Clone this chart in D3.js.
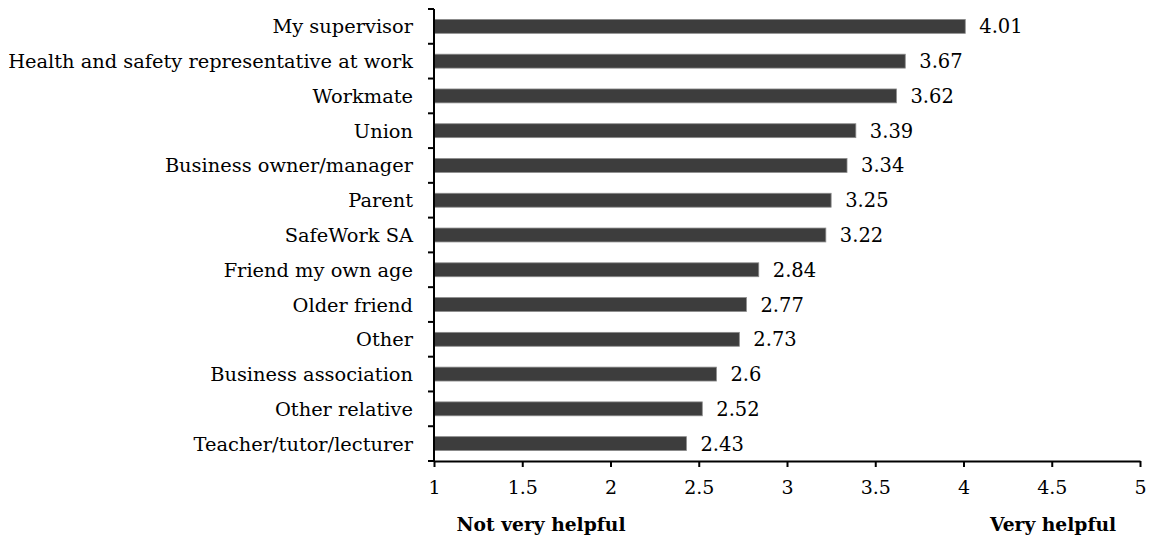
<!DOCTYPE html>
<html>
<head>
<meta charset="utf-8">
<script src="https://cdn.jsdelivr.net/npm/d3@7"></script>
<style>
  body { margin: 0; background: #fff; }
  text { font-family: "DejaVu Serif", serif; fill: #000; }
</style>
</head>
<body>
<div id="chart"></div>
<script>
// categories top to bottom and mean helpfulness score
var sources = ["My supervisor", "Health and safety representative at work", "Workmate", "Union",
  "Business owner/manager", "Parent", "SafeWork SA", "Friend my own age", "Older friend",
  "Other", "Business association", "Other relative", "Teacher/tutor/lecturer"];
var scores = [4.01, 3.67, 3.62, 3.39, 3.34, 3.25, 3.22, 2.84, 2.77, 2.73, 2.6, 2.52, 2.43];
var ticks = [1, 1.5, 2, 2.5, 3, 3.5, 4, 4.5, 5];
var lowLabel = "Not very helpful", highLabel = "Very helpful";

var width = 1154, height = 538;
var svg = d3.select("#chart").append("svg")
  .attr("width", width).attr("height", height);

var x = d3.scaleLinear().domain([1, 5]).range([434, 1140]);
var y = d3.scaleBand().domain(sources).range([9, 461]).paddingInner(0.6).paddingOuter(0.3);

// bars
svg.append("g").selectAll("rect")
  .data(sources).enter().append("rect")
  .attr("x", x(1))
  .attr("y", d => y(d))
  .attr("width", (d, i) => x(scores[i]) - x(1))
  .attr("height", y.bandwidth())
  .style("fill", "#3d3d3d")
  .style("stroke", "#8a8a8a")
  .style("stroke-width", 0.8);

// value labels
svg.append("g").selectAll("text")
  .data(sources).enter().append("text")
  .attr("x", (d, i) => x(scores[i]) + 14)
  .attr("y", d => y(d) + y.bandwidth() / 2)
  .attr("dy", "0.36em")
  .style("font-size", "19.5px")
  .text((d, i) => scores[i]);

// x axis
var xAxis = svg.append("g").attr("transform", "translate(0,461)")
  .call(d3.axisBottom(x).tickValues(ticks).tickSize(6).tickSizeOuter(0).tickPadding(14).tickFormat(d3.format("")));
xAxis.select(".domain").attr("stroke", "#000").attr("stroke-width", 2);
xAxis.selectAll(".tick line").attr("stroke", "#000").attr("stroke-width", 2);
xAxis.selectAll("text").style("font-size", "19px").attr("font-family", null);

// y axis with ticks between bands
var yAxis = svg.append("g").attr("transform", "translate(434,0)");
yAxis.append("line").attr("x1", 0).attr("x2", 0).attr("y1", 9).attr("y2", 461)
  .attr("stroke", "#000").attr("stroke-width", 2);
yAxis.selectAll("line.tk").data(d3.range(sources.length + 1)).enter().append("line")
  .attr("class", "tk")
  .attr("x1", -6).attr("x2", 0)
  .attr("y1", i => 9 + i * (452 / sources.length))
  .attr("y2", i => 9 + i * (452 / sources.length))
  .attr("stroke", "#000").attr("stroke-width", 2);
yAxis.selectAll("text").data(sources).enter().append("text")
  .attr("x", -21)
  .attr("y", d => y(d) + y.bandwidth() / 2)
  .attr("dy", "0.36em")
  .attr("text-anchor", "end")
  .style("font-size", "19.4px")
  .text(d => d);

// end labels
svg.append("text").attr("x", 541).attr("y", 531).attr("text-anchor", "middle")
  .style("font-size", "18.7px").style("font-weight", "bold").text(lowLabel);
svg.append("text").attr("x", 1053).attr("y", 531).attr("text-anchor", "middle")
  .style("font-size", "18.7px").style("font-weight", "bold").text(highLabel);
</script>
</body>
</html>
